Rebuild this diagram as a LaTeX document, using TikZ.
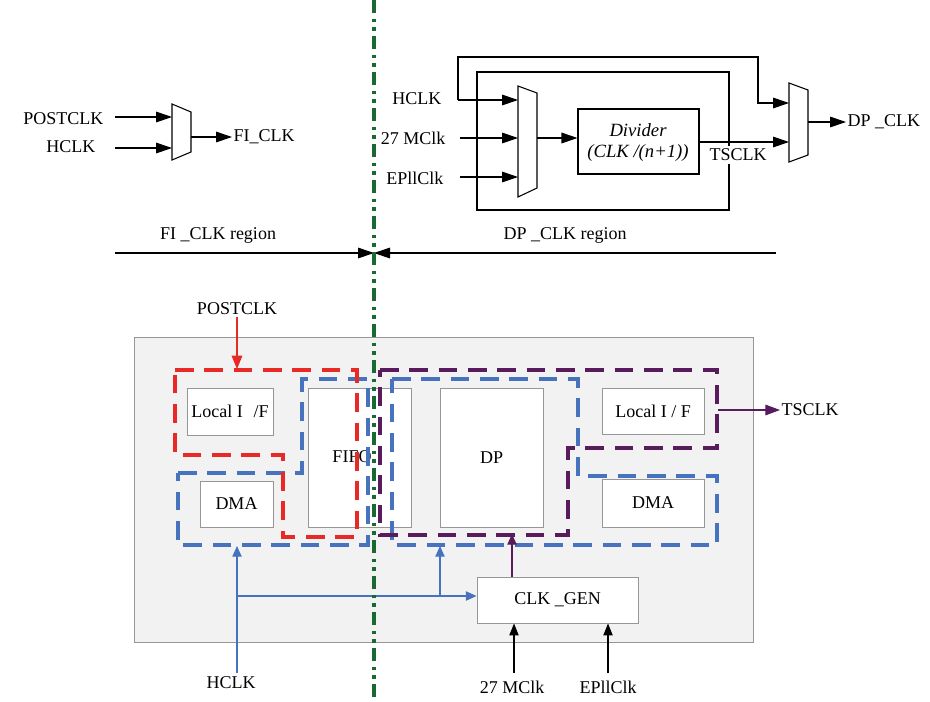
\documentclass[tikz,border=0pt]{standalone}
\usepackage{fontspec}
\setmainfont{Liberation Serif}
\usetikzlibrary{arrows.meta,fit}
\definecolor{dgreen}{RGB}{25,105,50}
\definecolor{rred}{RGB}{232,42,38}
\definecolor{bblue}{RGB}{70,114,190}
\definecolor{ppurple}{RGB}{88,28,92}
\definecolor{boxgray}{RGB}{150,150,150}
\definecolor{bggray}{RGB}{242,242,242}
\begin{document}
\begin{tikzpicture}[x=0.75pt,y=-0.75pt,
  lbl/.style={font=\fontsize{13.5}{16}\selectfont, inner sep=1pt},
  itl/.style={font=\fontsize{14}{16}\selectfont\itshape, inner sep=1pt},
  wbox/.style={draw=boxgray, fill=white, line width=0.7pt, inner sep=0pt},
  blk/.style={draw=black, line width=0.8pt},
  arr/.style={line width=0.8pt, -{Triangle[length=12pt,width=8pt]}},
  barr/.style={bblue, line width=0.8pt, -{Triangle[length=8pt,width=7pt]}},
  karr/.style={black, line width=0.8pt, -{Triangle[length=9pt,width=7pt]}},
  rdash/.style={line width=3.4pt, dash pattern=on 14pt off 8pt},
  gline/.style={dgreen, line width=3.4pt, dash pattern=on 10pt off 4pt on 2.5pt off 4pt on 2.5pt off 4pt}
]
\useasboundingbox (0,0) rectangle (930,701);

% ---------------- top-left multiplexer ----------------
\draw[blk] (172,104) -- (191,112) -- (191,152) -- (172,160) -- cycle;
\coordinate (m1a) at (172,117);
\coordinate (m1b) at (172,148);
\coordinate (m1o) at (191,137);
\node[lbl, anchor=east] (postclk) at (105,119) {POSTCLK};
\node[lbl, anchor=east] (hclka) at (97,147) {HCLK};
\coordinate (pin) at (115,117);
\coordinate (hin) at (115,148);
\draw[arr] (pin) -- (m1a);
\draw[arr] (hin) -- (m1b);
\node[lbl, anchor=west] (ficlk) at (232,137) {FI\_CLK};
\draw[arr] (m1o) -- (ficlk.west);

% ---------------- top-right clock path ----------------
\draw[blk] (477,72) rectangle (729,210);
\draw[blk] (518,86) -- (537,93) -- (537,188) -- (518,197) -- cycle;
\draw[blk] (789,83) -- (808,90) -- (808,155) -- (789,162) -- cycle;
\node[wbox, draw=black, line width=0.8pt, fit={(578,109)(699,174)}] (div) {};
\node[itl] (divt1) at (638,130) {Divider};
\node[itl] (divt2) at (638,153) {(CLK /(n+1))};
\node[lbl, fill=white, inner sep=2pt] (tsclka) at (738,155) {TSCLK};

\coordinate (hloop) at (458,100);
\coordinate (m2a) at (518,100);
\coordinate (m2b) at (518,138);
\coordinate (m2c) at (518,177);
\coordinate (m2o) at (537,138);
\coordinate (m3a) at (789,103);
\coordinate (m3b) at (789,142);
\coordinate (m3o) at (808,122);
\coordinate (min) at (460,138);
\coordinate (ein) at (460,177);
\node[lbl, anchor=east] (hclkb) at (443,99) {HCLK};
\node[lbl, anchor=east] (mclka) at (447,138) {27 MClk};
\node[lbl, anchor=east] (epllb) at (445,178) {EPllClk};
\draw[arr] (hloop) -- (m2a);
\draw[arr] (min) -- (m2b);
\draw[arr] (ein) -- (m2c);
\draw[arr] (m2o) -- (div.west |- m2o);
\draw[arr] (div.east |- m3b) -- (m3b);
\draw[arr] (hloop) -- (458,57) -- (758,57) -- (758,103) -- (m3a);
\node[lbl, anchor=west] (dpclk) at (846,122) {DP \_CLK};
\draw[arr] (m3o) -- (dpclk.west);

% ---------------- region separator ----------------
\coordinate (sepL) at (115,253);
\coordinate (sepR) at (776,253);
\coordinate (sepM) at (374,253);
\draw[arr] (sepL) -- (sepM);
\draw[arr] (sepR) -- (sepM);
\node[lbl] (fireg) at (218,235) {FI \_CLK region};
\node[lbl] (dpreg) at (565,235) {DP \_CLK region};

% ---------------- bottom block diagram ----------------
\fill[bggray] (134,337) rectangle (753,642);
\draw[boxgray, line width=0.7pt] (134,337) rectangle (753,642);

\node[wbox, fit={(187,388)(273,435)}] (locL) {};
\node[lbl] (locLt) at (locL.center) {Local I\hspace{0.6em}/F};
\node[wbox, fit={(200,481)(273,527)}] (dmaL) {};
\node[lbl] (dmaLt) at (dmaL.center) {DMA};
\node[wbox, fit={(308,388)(411,527)}] (fifo) {};
\node[lbl] (fifot) at (352,457) {FIFO};
\node[wbox, fit={(440,388)(543,527)}] (dp) {};
\node[lbl] (dpt) at (dp.center) {DP};
\node[wbox, fit={(602,388)(704,434)}] (locR) {};
\node[lbl] (locRt) at (locR.center) {Local I / F};
\node[wbox, fit={(602,479)(704,527)}] (dmaR) {};
\node[lbl] (dmaRt) at (dmaR.center) {DMA};
\node[wbox, fit={(477,577)(638,623)}] (clkgen) {};
\node[lbl] (clkgent) at (clkgen.center) {CLK \_GEN};

% dashed regions
\draw[bblue, rdash] (178,473) -- (302,473) -- (302,379) -- (368,379) -- (368,545) -- (178,545) -- cycle;
\draw[bblue, rdash] (392,379) -- (578,379) -- (578,476) -- (717,476) -- (717,545) -- (392,545) -- cycle;
\draw[rred, rdash] (175,370) -- (357,370) -- (357,537) -- (283,537) -- (283,455) -- (175,455) -- cycle;
\draw[ppurple, rdash] (380,370) -- (717,370) -- (717,448) -- (568,448) -- (568,535) -- (380,535) -- cycle;

% labels and connectors
\node[lbl] (postclkb) at (237,309) {POSTCLK};
\coordinate (redin) at (237,369);
\draw[rred, line width=0.8pt, -{Triangle[length=10pt,width=8pt]}] (postclkb.south) -- (redin);

\coordinate (purr) at (718,410);
\node[lbl, anchor=west] (tsclkb) at (780,410) {TSCLK};
\draw[ppurple, line width=0.8pt, -{Triangle[length=11pt,width=8pt]}] (purr) -- (tsclkb.west);
\coordinate (purb) at (512,534);
\draw[ppurple, line width=0.8pt, -{Triangle[length=8pt,width=7pt]}] (clkgen.north -| purb) -- (purb);

\node[lbl] (hclkc) at (231,683) {HCLK};
\coordinate (hj) at (237,596);
\coordinate (hbr) at (440,596);
\coordinate (bl1) at (237,546);
\coordinate (bl2) at (440,546);
\draw[barr] (237,673) -- (bl1);
\draw[barr] (hj) -- (clkgen.west |- hj);
\draw[barr] (hbr) -- (bl2);

\node[lbl] (mclkb) at (512,687) {27 MClk};
\node[lbl] (epllc) at (608,687) {EPllClk};
\draw[karr] (514,673) -- (clkgen.south -| 514,0);
\draw[karr] (608,673) -- (clkgen.south -| 608,0);

% green dash-dot separator
\coordinate (gtop) at (374,0);
\coordinate (gbot) at (374,701);
\draw[gline] (gtop) -- (gbot);
\end{tikzpicture}
\end{document}
